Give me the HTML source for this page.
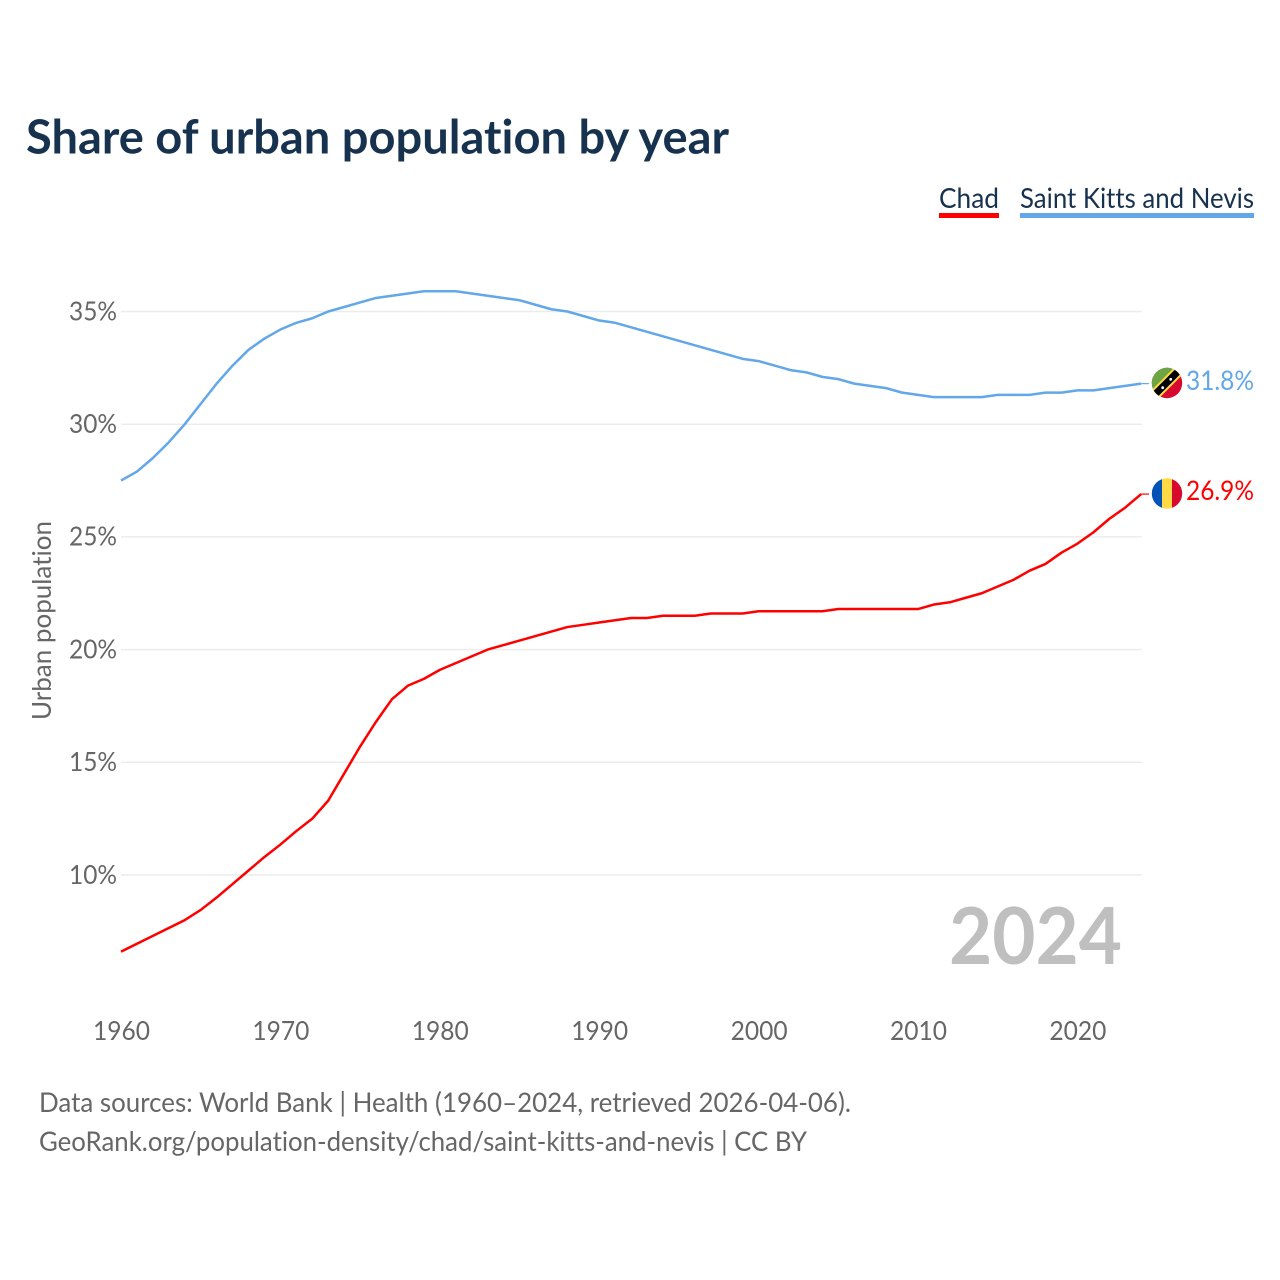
<!DOCTYPE html>
<html lang="en">
<head>
<meta charset="utf-8">
<title>Share of urban population by year</title>
<style>
html,body{margin:0;padding:0;background:#fff;width:1280px;height:1280px;overflow:hidden}
svg{display:block;font-family:"Lato","Carlito","Liberation Sans",sans-serif;font-variant-ligatures:none;font-feature-settings:"liga" 0,"clig" 0}
</style>
</head>
<body>
<svg id="chart" width="1280" height="1280" viewBox="0 0 1280 1280" xmlns="http://www.w3.org/2000/svg">
  <defs>
    <clipPath id="clip-kn"><circle cx="1167" cy="383" r="15.2"/></clipPath>
    <clipPath id="clip-td"><circle cx="1167" cy="493.5" r="15.2"/></clipPath>
  </defs>
  <rect width="1280" height="1280" fill="#fff"/>
  <text x="26" y="153.5" font-size="47" font-weight="700" fill="#17324f" textLength="703" lengthAdjust="spacingAndGlyphs">Share of urban population by year</text>

  <g>
    <g>
      <text x="939" y="208" font-size="28" fill="#17324f" textLength="60" lengthAdjust="spacingAndGlyphs">Chad</text>
      <rect x="939" y="213" width="60" height="5" fill="#ff0000"/>
    </g>
    <g>
      <text x="1020" y="208" font-size="28" fill="#17324f" textLength="234" lengthAdjust="spacingAndGlyphs">Saint Kitts and Nevis</text>
      <rect x="1020" y="213" width="234" height="5" fill="#62a7ea"/>
    </g>
  </g>

  <g id="grid"></g>
  <g id="y-ticks"></g>
  <g id="x-ticks"></g>

  <text transform="translate(51,720) rotate(-90)" x="0" y="0" font-size="26" fill="#666" textLength="199" lengthAdjust="spacingAndGlyphs">Urban population</text>

  <text x="949" y="964" font-size="79" font-weight="700" fill="#bfbfbf" textLength="173" lengthAdjust="spacingAndGlyphs">2024</text>

  <path id="line-kn" fill="none" stroke="#62a7ea" stroke-width="2.5" stroke-linejoin="round"/>
  <path id="line-td" fill="none" stroke="#ff0000" stroke-width="2.5" stroke-linejoin="round"/>
  <path id="lead-kn" fill="none" stroke="#62a7ea" stroke-width="1.2"/>
  <path id="lead-td" fill="none" stroke="#ff0000" stroke-width="1.2"/>

  <g id="flag-kn-group">
    <g clip-path="url(#clip-kn)">
      <rect x="1150" y="366" width="34" height="34" fill="#d8092e"/>
      <polygon points="1150,366 1183.5,366 1150,399.5" fill="#6da544"/>
      <line x1="1187" y1="362.5" x2="1147" y2="402.5" stroke="#ffda44" stroke-width="11"/>
      <line x1="1187" y1="362.5" x2="1147" y2="402.5" stroke="#000" stroke-width="7"/>
      <circle cx="1170.7" cy="379.3" r="1.4" fill="#fff"/>
      <circle cx="1162.7" cy="387.7" r="1.4" fill="#fff"/>
    </g>
  </g>
  <g id="flag-td-group">
    <g clip-path="url(#clip-td)">
      <rect x="1151" y="478" width="11" height="31" fill="#0052b4"/>
      <rect x="1162" y="478" width="10" height="31" fill="#ffda44"/>
      <rect x="1172" y="478" width="11" height="31" fill="#d8092e"/>
    </g>
  </g>

  <text x="1186" y="390" font-size="27.5" fill="#62a7ea" textLength="68" lengthAdjust="spacingAndGlyphs">31.8%</text>
  <text x="1186" y="500" font-size="27.5" fill="#ff0000" textLength="68" lengthAdjust="spacingAndGlyphs">26.9%</text>

  <text x="39" y="1112" font-size="27" fill="#666" textLength="812" lengthAdjust="spacingAndGlyphs">Data sources: World Bank | Health (1960–2024, retrieved 2026-04-06).</text>
  <text x="39" y="1151" font-size="27" fill="#666" textLength="768" lengthAdjust="spacingAndGlyphs">GeoRank.org/population-density/chad/saint-kitts-and-nevis | CC BY</text>
</svg>
<script>
const years = [1960,1961,1962,1963,1964,1965,1966,1967,1968,1969,1970,1971,1972,1973,1974,1975,1976,1977,1978,1979,1980,1981,1982,1983,1984,1985,1986,1987,1988,1989,1990,1991,1992,1993,1994,1995,1996,1997,1998,1999,2000,2001,2002,2003,2004,2005,2006,2007,2008,2009,2010,2011,2012,2013,2014,2015,2016,2017,2018,2019,2020,2021,2022,2023,2024];
const chadValues = [6.6,6.95,7.3,7.65,8.0,8.45,9.0,9.6,10.2,10.8,11.35,11.95,12.5,13.3,14.5,15.7,16.8,17.8,18.4,18.7,19.1,19.4,19.7,20.0,20.2,20.4,20.6,20.8,21.0,21.1,21.2,21.3,21.4,21.4,21.5,21.5,21.5,21.6,21.6,21.6,21.7,21.7,21.7,21.7,21.7,21.8,21.8,21.8,21.8,21.8,21.8,22.0,22.1,22.3,22.5,22.8,23.1,23.5,23.8,24.3,24.7,25.2,25.8,26.3,26.9];
const saintKittsValues = [27.5,27.9,28.5,29.2,30.0,30.9,31.8,32.6,33.3,33.8,34.2,34.5,34.7,35.0,35.2,35.4,35.6,35.7,35.8,35.9,35.9,35.9,35.8,35.7,35.6,35.5,35.3,35.1,35.0,34.8,34.6,34.5,34.3,34.1,33.9,33.7,33.5,33.3,33.1,32.9,32.8,32.6,32.4,32.3,32.1,32.0,31.8,31.7,31.6,31.4,31.3,31.2,31.2,31.2,31.2,31.3,31.3,31.3,31.4,31.4,31.5,31.5,31.6,31.7,31.8];
const yTickValues = [10,15,20,25,30,35];
const xTickValues = [1960,1970,1980,1990,2000,2010,2020];

const SVG_NS = 'http://www.w3.org/2000/svg';
function xScale(year) { return 121 + (year - 1960) * 15.94; }
function yScale(value) { return 875 - (value - 10) * 22.54; }
function linePath(values) {
  return values.map(function (v, i) {
    return (i ? 'L' : 'M') + xScale(years[i]).toFixed(2) + ' ' + yScale(v).toFixed(2);
  }).join('');
}

const gridGroup = document.getElementById('grid');
const yTickGroup = document.getElementById('y-ticks');
const xTickGroup = document.getElementById('x-ticks');

yTickValues.forEach(function (v) {
  const line = document.createElementNS(SVG_NS, 'line');
  
  
  line.setAttribute('x1', 121);
  line.setAttribute('x2', 1142);
  line.setAttribute('y1', yScale(v));
  line.setAttribute('y2', yScale(v));
  line.setAttribute('stroke', '#ececec');
  line.setAttribute('stroke-width', '1.5');
  gridGroup.appendChild(line);

  const label = document.createElementNS(SVG_NS, 'text');
  
  
  label.setAttribute('x', 69);
  label.setAttribute('y', yScale(v) + 8.8);
  label.setAttribute('font-size', '26');
  label.setAttribute('fill', '#666');
  label.setAttribute('textLength', '48');
  label.setAttribute('lengthAdjust', 'spacingAndGlyphs');
  label.textContent = v + '%';
  yTickGroup.appendChild(label);
});

xTickValues.forEach(function (year) {
  const label = document.createElementNS(SVG_NS, 'text');
  
  
  label.setAttribute('x', xScale(year) - 28);
  label.setAttribute('y', 1040);
  label.setAttribute('font-size', '26');
  label.setAttribute('fill', '#666');
  label.setAttribute('textLength', '57');
  label.setAttribute('lengthAdjust', 'spacingAndGlyphs');
  label.textContent = year;
  xTickGroup.appendChild(label);
});

document.getElementById('line-td').setAttribute('d', linePath(chadValues));
document.getElementById('line-kn').setAttribute('d', linePath(saintKittsValues));

const lastIndex = years.length - 1;
const lastX = xScale(years[lastIndex]);
document.getElementById('lead-td').setAttribute('d', 'M' + lastX + ' ' + yScale(chadValues[lastIndex]) + 'H1149');
document.getElementById('lead-kn').setAttribute('d', 'M' + lastX + ' ' + yScale(saintKittsValues[lastIndex]) + 'H1149');
</script>
</body>
</html>
